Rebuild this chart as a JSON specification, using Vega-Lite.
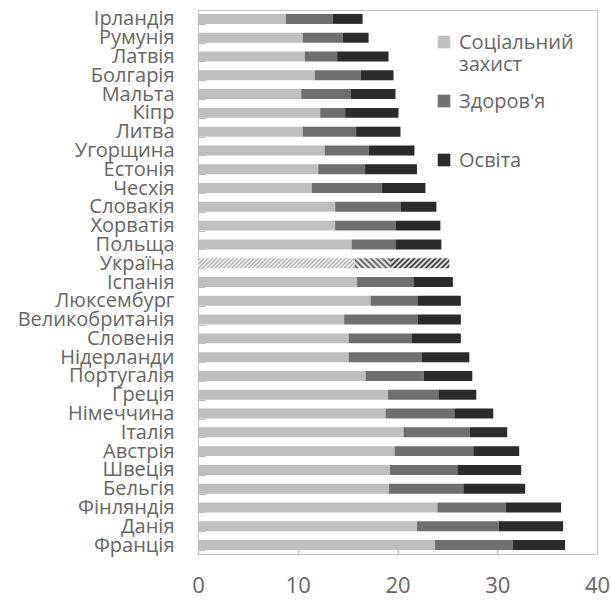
{
  "$schema": "https://vega.github.io/schema/vega-lite/v6.json",
  "autosize": {"type": "none"},
  "padding": {"left": 198, "top": 10, "right": 13, "bottom": 47},
  "width": 399,
  "height": 544,
  "background": "#ffffff",
  "config": {
    "font": "Open Sans",
    "view": {"stroke": "#bfbfbf", "strokeWidth": 1}
  },
  "data": {
    "values": [
      {"country": "Ірландія", "category": "Соціальний захист", "value": 8.8},
      {"country": "Ірландія", "category": "Здоров'я", "value": 4.7},
      {"country": "Ірландія", "category": "Освіта", "value": 3.0},
      {"country": "Румунія", "category": "Соціальний захист", "value": 10.5},
      {"country": "Румунія", "category": "Здоров'я", "value": 4.0},
      {"country": "Румунія", "category": "Освіта", "value": 2.6},
      {"country": "Латвія", "category": "Соціальний захист", "value": 10.7},
      {"country": "Латвія", "category": "Здоров'я", "value": 3.25},
      {"country": "Латвія", "category": "Освіта", "value": 5.15},
      {"country": "Болгарія", "category": "Соціальний захист", "value": 11.7},
      {"country": "Болгарія", "category": "Здоров'я", "value": 4.6},
      {"country": "Болгарія", "category": "Освіта", "value": 3.3},
      {"country": "Мальта", "category": "Соціальний захист", "value": 10.35},
      {"country": "Мальта", "category": "Здоров'я", "value": 4.95},
      {"country": "Мальта", "category": "Освіта", "value": 4.5},
      {"country": "Кіпр", "category": "Соціальний захист", "value": 12.25},
      {"country": "Кіпр", "category": "Здоров'я", "value": 2.5},
      {"country": "Кіпр", "category": "Освіта", "value": 5.35},
      {"country": "Литва", "category": "Соціальний захист", "value": 10.5},
      {"country": "Литва", "category": "Здоров'я", "value": 5.35},
      {"country": "Литва", "category": "Освіта", "value": 4.45},
      {"country": "Угорщина", "category": "Соціальний захист", "value": 12.7},
      {"country": "Угорщина", "category": "Здоров'я", "value": 4.4},
      {"country": "Угорщина", "category": "Освіта", "value": 4.6},
      {"country": "Естонія", "category": "Соціальний захист", "value": 12.05},
      {"country": "Естонія", "category": "Здоров'я", "value": 4.7},
      {"country": "Естонія", "category": "Освіта", "value": 5.2},
      {"country": "Чесхія", "category": "Соціальний захист", "value": 11.4},
      {"country": "Чесхія", "category": "Здоров'я", "value": 7.05},
      {"country": "Чесхія", "category": "Освіта", "value": 4.35},
      {"country": "Словакія", "category": "Соціальний захист", "value": 13.75},
      {"country": "Словакія", "category": "Здоров'я", "value": 6.6},
      {"country": "Словакія", "category": "Освіта", "value": 3.55},
      {"country": "Хорватія", "category": "Соціальний захист", "value": 13.75},
      {"country": "Хорватія", "category": "Здоров'я", "value": 6.1},
      {"country": "Хорватія", "category": "Освіта", "value": 4.45},
      {"country": "Польща", "category": "Соціальний захист", "value": 15.4},
      {"country": "Польща", "category": "Здоров'я", "value": 4.45},
      {"country": "Польща", "category": "Освіта", "value": 4.55},
      {"country": "Україна", "category": "Соціальний захист", "value": 15.7},
      {"country": "Україна", "category": "Здоров'я", "value": 3.65},
      {"country": "Україна", "category": "Освіта", "value": 5.85},
      {"country": "Іспанія", "category": "Соціальний захист", "value": 15.95},
      {"country": "Іспанія", "category": "Здоров'я", "value": 5.65},
      {"country": "Іспанія", "category": "Освіта", "value": 3.95},
      {"country": "Люксембург", "category": "Соціальний захист", "value": 17.3},
      {"country": "Люксембург", "category": "Здоров'я", "value": 4.7},
      {"country": "Люксембург", "category": "Освіта", "value": 4.35},
      {"country": "Великобританія", "category": "Соціальний захист", "value": 14.65},
      {"country": "Великобританія", "category": "Здоров'я", "value": 7.35},
      {"country": "Великобританія", "category": "Освіта", "value": 4.35},
      {"country": "Словенія", "category": "Соціальний захист", "value": 15.1},
      {"country": "Словенія", "category": "Здоров'я", "value": 6.3},
      {"country": "Словенія", "category": "Освіта", "value": 4.95},
      {"country": "Нідерланди", "category": "Соціальний захист", "value": 15.1},
      {"country": "Нідерланди", "category": "Здоров'я", "value": 7.3},
      {"country": "Нідерланди", "category": "Освіта", "value": 4.8},
      {"country": "Португалія", "category": "Соціальний захист", "value": 16.8},
      {"country": "Португалія", "category": "Здоров'я", "value": 5.85},
      {"country": "Португалія", "category": "Освіта", "value": 4.85},
      {"country": "Греція", "category": "Соціальний захист", "value": 19.05},
      {"country": "Греція", "category": "Здоров'я", "value": 5.05},
      {"country": "Греція", "category": "Освіта", "value": 3.8},
      {"country": "Німеччина", "category": "Соціальний захист", "value": 18.8},
      {"country": "Німеччина", "category": "Здоров'я", "value": 6.9},
      {"country": "Німеччина", "category": "Освіта", "value": 3.9},
      {"country": "Італія", "category": "Соціальний захист", "value": 20.6},
      {"country": "Італія", "category": "Здоров'я", "value": 6.65},
      {"country": "Італія", "category": "Освіта", "value": 3.75},
      {"country": "Австрія", "category": "Соціальний захист", "value": 19.7},
      {"country": "Австрія", "category": "Здоров'я", "value": 7.9},
      {"country": "Австрія", "category": "Освіта", "value": 4.6},
      {"country": "Швеція", "category": "Соціальний захист", "value": 19.25},
      {"country": "Швеція", "category": "Здоров'я", "value": 6.75},
      {"country": "Швеція", "category": "Освіта", "value": 6.4},
      {"country": "Бельгія", "category": "Соціальний захист", "value": 19.15},
      {"country": "Бельгія", "category": "Здоров'я", "value": 7.45},
      {"country": "Бельгія", "category": "Освіта", "value": 6.2},
      {"country": "Фінляндія", "category": "Соціальний захист", "value": 24.0},
      {"country": "Фінляндія", "category": "Здоров'я", "value": 6.85},
      {"country": "Фінляндія", "category": "Освіта", "value": 5.55},
      {"country": "Данія", "category": "Соціальний захист", "value": 21.95},
      {"country": "Данія", "category": "Здоров'я", "value": 8.2},
      {"country": "Данія", "category": "Освіта", "value": 6.45},
      {"country": "Франція", "category": "Соціальний захист", "value": 23.75},
      {"country": "Франція", "category": "Здоров'я", "value": 7.8},
      {"country": "Франція", "category": "Освіта", "value": 5.25}
    ]
  },
  "transform": [
    {"stack": "value", "groupby": ["country"], "as": ["v0", "v1"]}
  ],
  "encoding": {
    "y": {
      "field": "country",
      "type": "nominal",
      "title": null,
      "scale": {
        "domain": ["Ірландія", "Румунія", "Латвія", "Болгарія", "Мальта", "Кіпр", "Литва", "Угорщина", "Естонія", "Чесхія", "Словакія", "Хорватія", "Польща", "Україна", "Іспанія", "Люксембург", "Великобританія", "Словенія", "Нідерланди", "Португалія", "Греція", "Німеччина", "Італія", "Австрія", "Швеція", "Бельгія", "Фінляндія", "Данія", "Франція"],
        "paddingInner": 0.47,
        "paddingOuter": 0.21
      },
      "axis": {
        "domain": false,
        "grid": false,
        "tickBand": "extent",
        "ticks": true,
        "tickSize": -7,
        "tickColor": "#bfbfbf",
        "labelFontSize": 20,
        "labelColor": "#666666",
        "labelPadding": 31,
        "labelOverlap": false,
        "labelLimit": 0
      }
    },
    "x": {
      "field": "v0",
      "type": "quantitative",
      "title": null,
      "scale": {"domain": [0, 40], "nice": false},
      "axis": {
        "values": [0, 10, 20, 30, 40],
        "domain": false,
        "grid": false,
        "tickSize": -6,
        "tickColor": "#bfbfbf",
        "labelFontSize": 22,
        "labelColor": "#666666",
        "labelPadding": 27,
        "labelFlush": false
      }
    },
    "x2": {"field": "v1"}
  },
  "layer": [
    {
      "transform": [{"filter": "datum.country != 'Україна'"}],
      "mark": {"type": "bar"},
      "encoding": {
        "color": {
          "field": "category",
          "type": "nominal",
          "scale": {
            "domain": ["Соціальний захист", "Здоров'я", "Освіта"],
            "range": ["#bfbfbf", "#6f6f6f", "#2b2b2b"]
          },
          "legend": {
            "title": null,
            "orient": "none",
            "legendX": 236,
            "legendY": 22,
            "padding": 0,
            "symbolType": "square",
            "symbolSize": 160,
            "symbolStrokeWidth": 0,
            "labelFontSize": 20,
            "labelColor": "#666666",
            "labelOffset": 5,
            "labelBaseline": "alphabetic",
            "labelLineHeight": 29,
            "labelLimit": 0,
            "rowPadding": 16,
            "labelExpr": "datum.label == 'Соціальний захист' ? ['Соціальний', 'захист'] : [datum.label, '']",
            "encode": {"labels": {"update": {"dy": {"value": 7}}}}
          }
        }
      }
    },
    {
      "transform": [{"filter": "datum.country == 'Україна' && datum.category == 'Соціальний захист'"}],
      "mark": {
        "type": "bar",
        "color": {
          "gradient": "linear", "x1": 0, "y1": 0, "x2": 1.06, "y2": 0.068,
          "stops": [
            {"offset": 0, "color": "#fff"}, {"offset": 0.0125, "color": "#aaa"}, {"offset": 0.025, "color": "#fff"}, {"offset": 0.0375, "color": "#aaa"},
            {"offset": 0.05, "color": "#fff"}, {"offset": 0.0625, "color": "#aaa"}, {"offset": 0.075, "color": "#fff"}, {"offset": 0.0875, "color": "#aaa"},
            {"offset": 0.1, "color": "#fff"}, {"offset": 0.1125, "color": "#aaa"}, {"offset": 0.125, "color": "#fff"}, {"offset": 0.1375, "color": "#aaa"},
            {"offset": 0.15, "color": "#fff"}, {"offset": 0.1625, "color": "#aaa"}, {"offset": 0.175, "color": "#fff"}, {"offset": 0.1875, "color": "#aaa"},
            {"offset": 0.2, "color": "#fff"}, {"offset": 0.2125, "color": "#aaa"}, {"offset": 0.225, "color": "#fff"}, {"offset": 0.2375, "color": "#aaa"},
            {"offset": 0.25, "color": "#fff"}, {"offset": 0.2625, "color": "#aaa"}, {"offset": 0.275, "color": "#fff"}, {"offset": 0.2875, "color": "#aaa"},
            {"offset": 0.3, "color": "#fff"}, {"offset": 0.3125, "color": "#aaa"}, {"offset": 0.325, "color": "#fff"}, {"offset": 0.3375, "color": "#aaa"},
            {"offset": 0.35, "color": "#fff"}, {"offset": 0.3625, "color": "#aaa"}, {"offset": 0.375, "color": "#fff"}, {"offset": 0.3875, "color": "#aaa"},
            {"offset": 0.4, "color": "#fff"}, {"offset": 0.4125, "color": "#aaa"}, {"offset": 0.425, "color": "#fff"}, {"offset": 0.4375, "color": "#aaa"},
            {"offset": 0.45, "color": "#fff"}, {"offset": 0.4625, "color": "#aaa"}, {"offset": 0.475, "color": "#fff"}, {"offset": 0.4875, "color": "#aaa"},
            {"offset": 0.5, "color": "#fff"}, {"offset": 0.5125, "color": "#aaa"}, {"offset": 0.525, "color": "#fff"}, {"offset": 0.5375, "color": "#aaa"},
            {"offset": 0.55, "color": "#fff"}, {"offset": 0.5625, "color": "#aaa"}, {"offset": 0.575, "color": "#fff"}, {"offset": 0.5875, "color": "#aaa"},
            {"offset": 0.6, "color": "#fff"}, {"offset": 0.6125, "color": "#aaa"}, {"offset": 0.625, "color": "#fff"}, {"offset": 0.6375, "color": "#aaa"},
            {"offset": 0.65, "color": "#fff"}, {"offset": 0.6625, "color": "#aaa"}, {"offset": 0.675, "color": "#fff"}, {"offset": 0.6875, "color": "#aaa"},
            {"offset": 0.7, "color": "#fff"}, {"offset": 0.7125, "color": "#aaa"}, {"offset": 0.725, "color": "#fff"}, {"offset": 0.7375, "color": "#aaa"},
            {"offset": 0.75, "color": "#fff"}, {"offset": 0.7625, "color": "#aaa"}, {"offset": 0.775, "color": "#fff"}, {"offset": 0.7875, "color": "#aaa"},
            {"offset": 0.8, "color": "#fff"}, {"offset": 0.8125, "color": "#aaa"}, {"offset": 0.825, "color": "#fff"}, {"offset": 0.8375, "color": "#aaa"},
            {"offset": 0.85, "color": "#fff"}, {"offset": 0.8625, "color": "#aaa"}, {"offset": 0.875, "color": "#fff"}, {"offset": 0.8875, "color": "#aaa"},
            {"offset": 0.9, "color": "#fff"}, {"offset": 0.9125, "color": "#aaa"}, {"offset": 0.925, "color": "#fff"}, {"offset": 0.9375, "color": "#aaa"},
            {"offset": 0.95, "color": "#fff"}, {"offset": 0.9625, "color": "#aaa"}, {"offset": 0.975, "color": "#fff"}, {"offset": 0.9875, "color": "#aaa"},
            {"offset": 1, "color": "#fff"}
          ]
        }
      }
    },
    {
      "transform": [{"filter": "datum.country == 'Україна' && datum.category == \"Здоров'я\""}],
      "mark": {
        "type": "bar",
        "color": {
          "gradient": "linear", "x1": 0, "y1": 1, "x2": 1.185, "y2": 0.674,
          "stops": [
            {"offset": 0, "color": "#fff"}, {"offset": 0.0625, "color": "#555"}, {"offset": 0.125, "color": "#fff"}, {"offset": 0.1875, "color": "#555"},
            {"offset": 0.25, "color": "#fff"}, {"offset": 0.3125, "color": "#555"}, {"offset": 0.375, "color": "#fff"}, {"offset": 0.4375, "color": "#555"},
            {"offset": 0.5, "color": "#fff"}, {"offset": 0.5625, "color": "#555"}, {"offset": 0.625, "color": "#fff"}, {"offset": 0.6875, "color": "#555"},
            {"offset": 0.75, "color": "#fff"}, {"offset": 0.8125, "color": "#555"}, {"offset": 0.875, "color": "#fff"}, {"offset": 0.9375, "color": "#555"},
            {"offset": 1, "color": "#fff"}
          ]
        }
      }
    },
    {
      "transform": [{"filter": "datum.country == 'Україна' && datum.category == 'Освіта'"}],
      "mark": {
        "type": "bar",
        "color": {
          "gradient": "linear", "x1": 0, "y1": 0, "x2": 1.138, "y2": 0.195,
          "stops": [
            {"offset": 0, "color": "#fff"}, {"offset": 0.0385, "color": "#222"}, {"offset": 0.0769, "color": "#fff"}, {"offset": 0.1154, "color": "#222"},
            {"offset": 0.1538, "color": "#fff"}, {"offset": 0.1923, "color": "#222"}, {"offset": 0.2308, "color": "#fff"}, {"offset": 0.2692, "color": "#222"},
            {"offset": 0.3077, "color": "#fff"}, {"offset": 0.3462, "color": "#222"}, {"offset": 0.3846, "color": "#fff"}, {"offset": 0.4231, "color": "#222"},
            {"offset": 0.4615, "color": "#fff"}, {"offset": 0.5, "color": "#222"}, {"offset": 0.5385, "color": "#fff"}, {"offset": 0.5769, "color": "#222"},
            {"offset": 0.6154, "color": "#fff"}, {"offset": 0.6538, "color": "#222"}, {"offset": 0.6923, "color": "#fff"}, {"offset": 0.7308, "color": "#222"},
            {"offset": 0.7692, "color": "#fff"}, {"offset": 0.8077, "color": "#222"}, {"offset": 0.8462, "color": "#fff"}, {"offset": 0.8846, "color": "#222"},
            {"offset": 0.9231, "color": "#fff"}, {"offset": 0.9615, "color": "#222"}, {"offset": 1, "color": "#fff"}
          ]
        }
      }
    }
  ]
}
